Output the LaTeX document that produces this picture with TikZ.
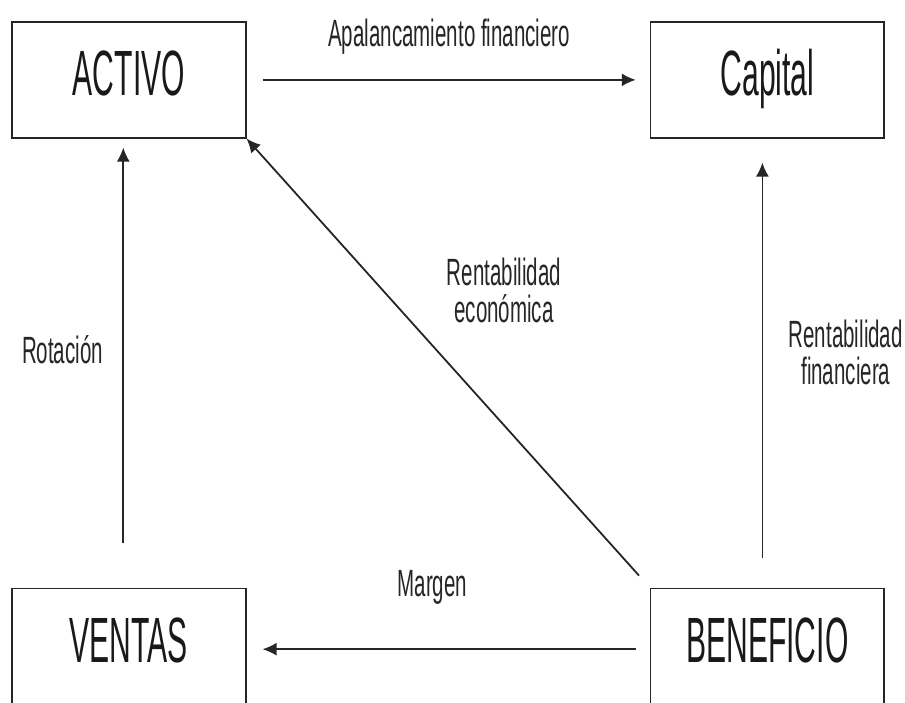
\documentclass[tikz,border=0pt]{standalone}
\usepackage{fontspec}
\usetikzlibrary{arrows.meta,positioning}
\newfontfamily\letragrande[FakeStretch=0.47]{Liberation Sans}
\newfontfamily\letrachica[FakeStretch=0.54]{Liberation Sans}
\tikzset{
  caja/.style={draw=black!85, line width=1.6pt, rectangle, minimum width=233.7pt, minimum height=115.7pt, inner sep=0pt, text height=46pt, text depth=14pt, text=black!90, font=\letragrande\fontsize{64}{70}\selectfont},
  etiqueta/.style={inner sep=0pt, align=center, text=black!85, font=\letrachica\fontsize{38}{37}\selectfont},
  flecha/.style={-{Latex[length=14pt,width=13pt]}, line width=1.8pt, draw=black!85}
}

\begin{document}
\begin{tikzpicture}[x=1pt, y=1pt, node distance=638.5pt, auto]
    \useasboundingbox (0,0) rectangle (905,702);
    \node (activo) [caja] at (128.9,622.1) {ACTIVO};
    \node (capital) [caja, right of=activo] {Capital};
    \node (ventas) [caja, below of=activo, node distance=566.3pt] {VENTAS};
    \node (beneficio) [caja, right of=ventas] {BENEFICIO};
    \draw[flecha, shorten <=16pt, shorten >=14pt] (activo) -- (capital);
    \draw[flecha, shorten <=14pt, shorten >=16pt] ([yshift=-3pt]beneficio.west) -- ([yshift=-3pt]ventas.east);
    \draw[flecha, shorten <=45pt, shorten >=9pt] ([xshift=-5.6pt]ventas.north) -- ([xshift=-5.6pt]activo.south);
    \draw[flecha, shorten <=30pt, shorten >=24pt] ([xshift=-5pt]beneficio.north) -- ([xshift=-5pt]capital.south);
    \draw[flecha, shorten <=16pt] (beneficio.north west) -- (activo.south east);
    \node (apalancamiento) [etiqueta, anchor=base] at (449.2,655.3) {Apalancamiento financiero};
    \node (rotacion) [etiqueta, anchor=base] at (62.5,338.7) {Rotación};
    \node (economica) [etiqueta, anchor=base] at (504,379) {Rentabilidad\\económica};
    \node (financiera) [etiqueta, anchor=base] at (845.8,317) {Rentabilidad\\financiera};
    \node (margen) [etiqueta, anchor=base] at (432.3,105.3) {Margen};
\end{tikzpicture}
\end{document}
